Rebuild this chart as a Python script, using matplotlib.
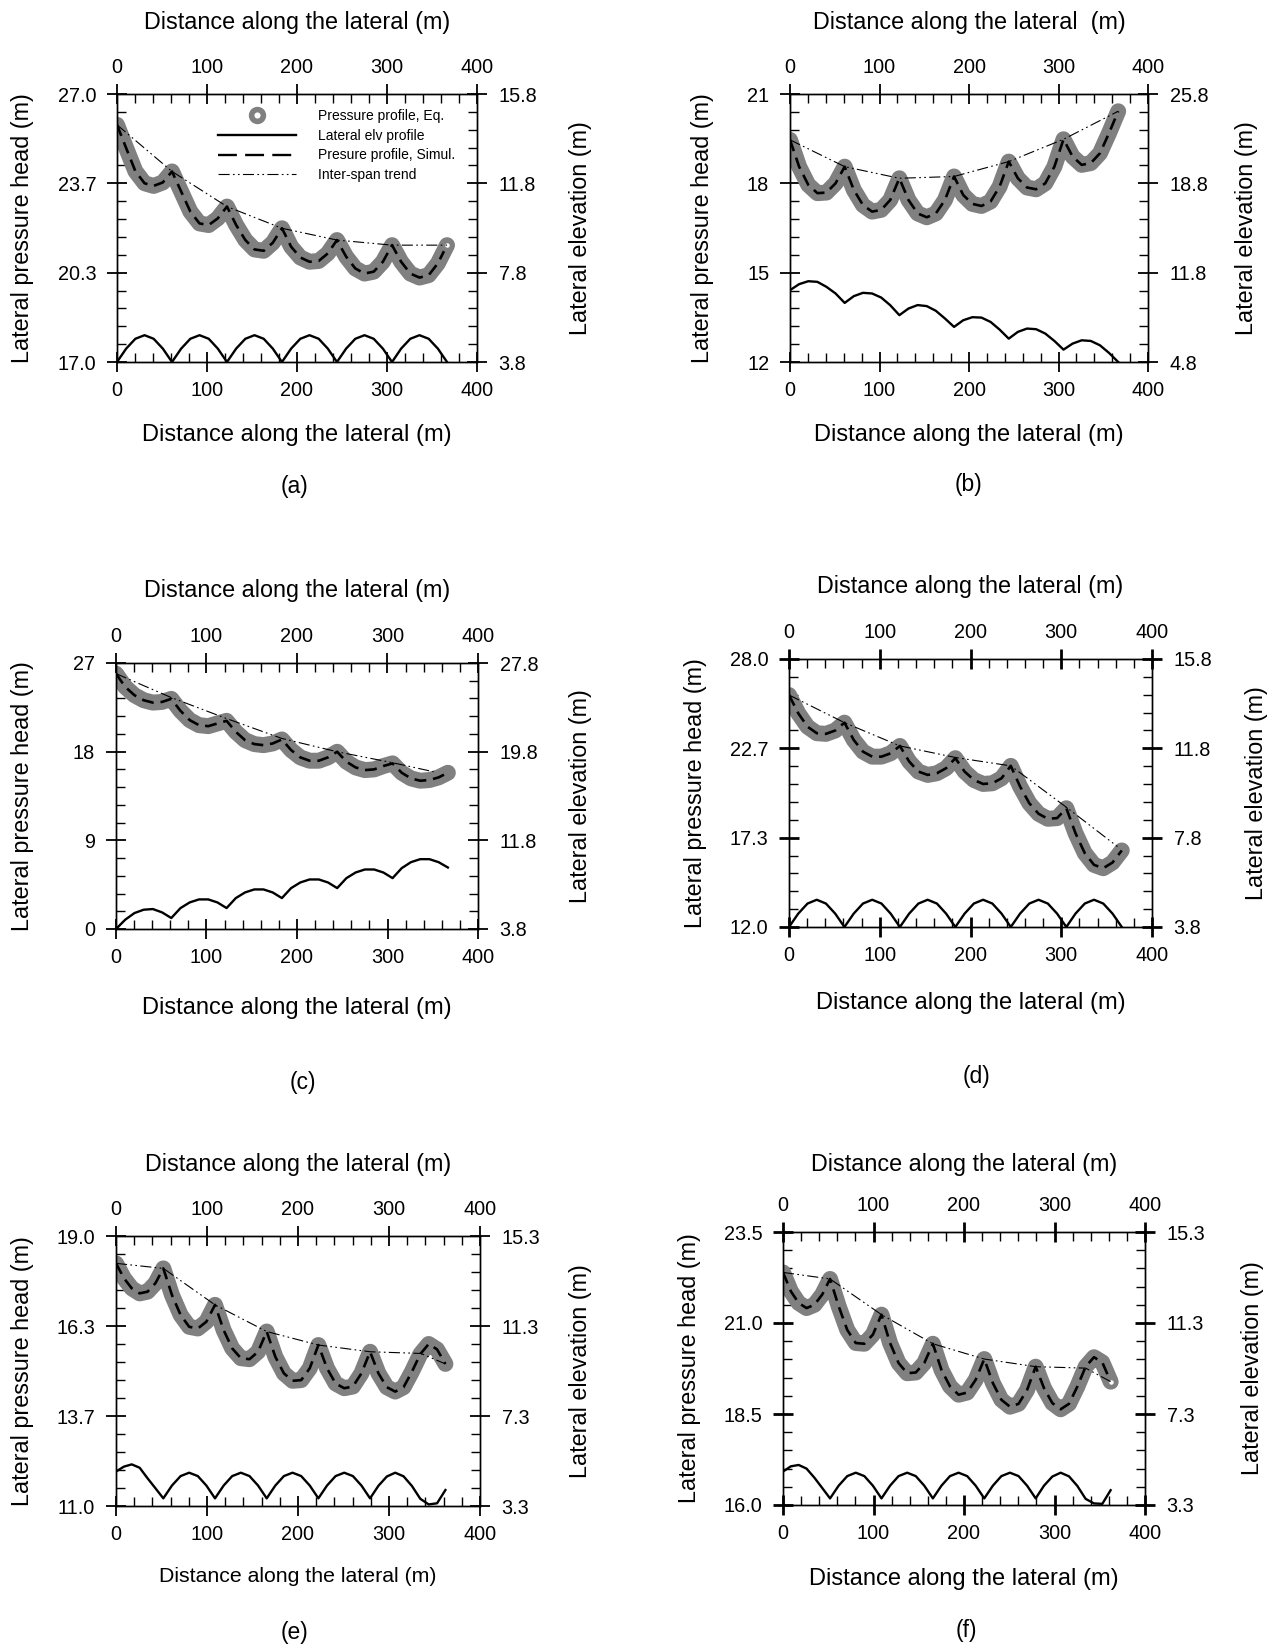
import matplotlib
matplotlib.use("Agg")
import matplotlib.pyplot as plt
from matplotlib.lines import Line2D
import numpy as np

plt.rcParams['font.family'] = ['Liberation Sans', 'DejaVu Sans']

W, H = 1277, 1646

# ---------------- data ----------------
# distance grid (m) for panels a-d (6 spans of ~61.1 m)
x_ad = [0, 10.2, 20.4, 30.6, 40.7, 50.9, 61.1, 71.3, 81.5, 91.7, 101.9, 112.0,
        122.2, 132.4, 142.6, 152.8, 163.0, 173.1, 183.3, 193.5, 203.7, 213.9,
        224.1, 234.2, 244.4, 254.6, 264.8, 275.0, 285.2, 295.4, 305.6, 315.7,
        325.9, 336.1, 346.3, 356.5, 366.7]
# distance grid (m) for panels e-f
x_ef = [0, 8.7, 17.3, 26.0, 34.7, 43.3, 52.0, 61.5, 71.0, 80.4, 89.9, 99.3,
        108.8, 118.3, 127.7, 137.2, 146.7, 156.1, 165.6, 175.1, 184.5, 194.0,
        203.5, 212.9, 222.4, 231.9, 241.3, 250.8, 260.3, 269.7, 279.2, 288.4,
        297.6, 306.8, 316.0, 325.2, 334.4, 343.6, 352.8, 362.0]

# pressure head profiles (m)
press_a = [25.85, 24.98, 24.12, 23.67, 23.57, 23.70, 24.11,
           23.36, 22.61, 22.17, 22.11, 22.36, 22.80,
           22.11, 21.55, 21.20, 21.15, 21.45, 21.99,
           21.30, 20.90, 20.74, 20.77, 21.05, 21.55,
           20.93, 20.49, 20.30, 20.37, 20.74, 21.36,
           20.74, 20.30, 20.15, 20.24, 20.68, 21.36]
press_b = [19.46, 18.56, 17.95, 17.67, 17.69, 18.00, 18.56,
           17.78, 17.27, 17.05, 17.11, 17.44, 18.17,
           17.44, 16.99, 16.86, 16.99, 17.44, 18.23,
           17.61, 17.31, 17.24, 17.39, 17.89, 18.73,
           18.17, 17.86, 17.80, 18.00, 18.56, 19.48,
           18.90, 18.62, 18.68, 19.01, 19.69, 20.42]
press_c = [25.92, 24.57, 23.73, 23.22, 22.98, 23.05, 23.36,
           22.14, 21.20, 20.69, 20.59, 20.86, 21.13,
           20.01, 19.17, 18.77, 18.66, 18.83, 19.24,
           18.16, 17.42, 17.08, 17.08, 17.42, 17.99,
           16.98, 16.40, 16.13, 16.20, 16.54, 16.81,
           15.86, 15.29, 15.05, 15.12, 15.39, 15.86]
press_d = [25.85, 24.76, 23.96, 23.57, 23.53, 23.73, 24.20,
           23.17, 22.47, 22.17, 22.17, 22.37, 22.81,
           21.88, 21.28, 21.08, 21.18, 21.48, 22.08,
           21.28, 20.78, 20.54, 20.58, 20.88, 21.62,
           20.39, 19.39, 18.76, 18.46, 18.50, 19.09,
           17.60, 16.41, 15.71, 15.51, 15.85, 16.57]
press_e = [18.19, 17.75, 17.45, 17.30, 17.35, 17.60, 18.04,
           17.25, 16.66, 16.31, 16.26, 16.46, 16.96,
           16.21, 15.67, 15.38, 15.35, 15.57, 16.17,
           15.42, 14.93, 14.71, 14.73, 15.08, 15.77,
           15.08, 14.63, 14.49, 14.54, 14.93, 15.57,
           14.93, 14.52, 14.39, 14.52, 14.98, 15.50, 15.80, 15.64, 15.21]
press_f = [22.39, 21.87, 21.55, 21.41, 21.50, 21.78, 22.21,
           21.46, 20.81, 20.45, 20.43, 20.68, 21.23,
           20.45, 19.90, 19.62, 19.64, 19.90, 20.43,
           19.71, 19.26, 19.03, 19.09, 19.44, 20.01,
           19.35, 18.89, 18.70, 18.78, 19.16, 19.80,
           19.21, 18.80, 18.63, 18.78, 19.25, 19.80, 20.06, 19.92, 19.39]

# lateral elevation profiles (m)
elev_a = [3.8, 4.4, 4.84, 5.0, 4.84, 4.4, 3.8,
          4.4, 4.84, 5.0, 4.84, 4.4, 3.8,
          4.4, 4.84, 5.0, 4.84, 4.4, 3.8,
          4.4, 4.84, 5.0, 4.84, 4.4, 3.8,
          4.4, 4.84, 5.0, 4.84, 4.4, 3.8,
          4.4, 4.84, 5.0, 4.84, 4.4, 3.8]
elev_b = [10.43, 10.90, 11.13, 11.08, 10.69, 10.17, 9.43,
          9.96, 10.22, 10.17, 9.85, 9.25, 8.47,
          8.99, 9.26, 9.18, 8.81, 8.21, 7.55,
          8.07, 8.31, 8.28, 7.94, 7.34, 6.63,
          7.16, 7.42, 7.37, 7.03, 6.45, 5.77,
          6.24, 6.50, 6.45, 6.11, 5.51, 4.80]
elev_c = [3.8, 4.64, 5.24, 5.54, 5.60, 5.30, 4.79,
          5.69, 6.20, 6.47, 6.47, 6.20, 5.69,
          6.59, 7.10, 7.37, 7.37, 7.10, 6.59,
          7.49, 8.00, 8.27, 8.27, 8.00, 7.49,
          8.39, 8.90, 9.17, 9.17, 8.90, 8.39,
          9.29, 9.83, 10.10, 10.10, 9.83, 9.35]
elev_d = [3.8, 4.4, 4.85, 5.02, 4.85, 4.4, 3.8,
          4.4, 4.85, 5.02, 4.85, 4.4, 3.8,
          4.4, 4.85, 5.02, 4.85, 4.4, 3.8,
          4.4, 4.85, 5.02, 4.85, 4.4, 3.8,
          4.4, 4.85, 5.02, 4.85, 4.4, 3.8,
          4.4, 4.85, 5.02, 4.85, 4.4, 3.8]
elev_e = [4.83, 5.05, 5.15, 5.00, 4.53, 4.09, 3.64,
          4.21, 4.63, 4.78, 4.63, 4.21, 3.64,
          4.21, 4.63, 4.78, 4.63, 4.21, 3.64,
          4.21, 4.63, 4.78, 4.63, 4.21, 3.64,
          4.21, 4.63, 4.78, 4.63, 4.21, 3.64,
          4.20, 4.61, 4.78, 4.62, 4.19, 3.62, 3.37, 3.42, 4.01]
elev_f = [4.77, 5.00, 5.06, 4.90, 4.50, 4.05, 3.59,
          4.15, 4.57, 4.72, 4.57, 4.15, 3.59,
          4.15, 4.57, 4.72, 4.57, 4.15, 3.59,
          4.15, 4.57, 4.72, 4.57, 4.15, 3.59,
          4.15, 4.57, 4.72, 4.57, 4.15, 3.59,
          4.15, 4.55, 4.72, 4.56, 4.14, 3.57, 3.37, 3.35, 3.95]

# inter-span trend
trend_x_a = [0, 61.1, 122.2, 183.3, 244.4, 305.6, 366.7]
trend_a = [25.85, 24.11, 22.80, 21.99, 21.55, 21.36, 21.36]
trend_x_b = [0, 61.1, 122.2, 183.3, 244.4, 305.6, 366.7]
trend_b = [19.46, 18.56, 18.17, 18.23, 18.73, 19.48, 20.42]
trend_x_c = [0, 61.1, 122.2, 183.3, 244.4, 305.6, 351.0]
trend_c = [25.92, 23.49, 21.36, 19.34, 17.99, 16.88, 15.96]
trend_x_d = [0, 61.1, 122.2, 183.3, 244.4, 305.6, 362.0]
trend_d = [25.85, 24.20, 22.81, 22.12, 21.62, 19.15, 16.80]
trend_x_e = [0, 52.0, 108.8, 165.6, 222.4, 279.2, 335.0, 362.0]
trend_e = [18.19, 18.04, 16.96, 16.17, 15.77, 15.57, 15.52, 15.21]
trend_x_f = [0, 52.0, 108.8, 165.6, 222.4, 279.2, 334.4, 362.0]
trend_f = [22.39, 22.21, 21.23, 20.43, 20.01, 19.80, 19.76, 19.39]

# axis ticks
x_ticks = [0, 100, 200, 300, 400]
left_lim = {'a': (17.0, 27.0), 'b': (12, 21), 'c': (0, 27), 'd': (12.0, 28.0),
            'e': (11.0, 19.0), 'f': (16.0, 23.5)}
left_labels = {'a': ['17.0', '20.3', '23.7', '27.0'], 'b': ['12', '15', '18', '21'],
               'c': ['0', '9', '18', '27'], 'd': ['12.0', '17.3', '22.7', '28.0'],
               'e': ['11.0', '13.7', '16.3', '19.0'], 'f': ['16.0', '18.5', '21.0', '23.5']}
right_lim = {'a': (3.8, 15.8), 'b': (4.8, 25.8), 'c': (3.8, 27.8), 'd': (3.8, 15.8),
             'e': (3.3, 15.3), 'f': (3.3, 15.3)}
right_labels = {'a': ['3.8', '7.8', '11.8', '15.8'], 'b': ['4.8', '11.8', '18.8', '25.8'],
                'c': ['3.8', '11.8', '19.8', '27.8'], 'd': ['3.8', '7.8', '11.8', '15.8'],
                'e': ['3.3', '7.3', '11.3', '15.3'], 'f': ['3.3', '7.3', '11.3', '15.3']}

xlabel = "Distance along the lateral (m)"
ylabel_left = "Lateral pressure head (m)"
ylabel_right = "Lateral elevation (m)"

panels = {
    'a': dict(x=x_ad, p=press_a, e=elev_a, tx=trend_x_a, t=trend_a),
    'b': dict(x=x_ad, p=press_b, e=elev_b, tx=trend_x_b, t=trend_b),
    'c': dict(x=x_ad, p=press_c, e=elev_c, tx=trend_x_c, t=trend_c),
    'd': dict(x=x_ad, p=press_d, e=elev_d, tx=trend_x_d, t=trend_d),
    'e': dict(x=x_ef, p=press_e, e=elev_e, tx=trend_x_e, t=trend_e),
    'f': dict(x=x_ef, p=press_f, e=elev_f, tx=trend_x_f, t=trend_f),
}

# ---------------- layout (pixel boxes: left, right, top, bottom) ----------------
boxes = {'a': (117, 477, 94, 362), 'b': (790, 1148, 94, 362),
         'c': (116, 478, 663, 929), 'd': (789, 1152, 659, 927),
         'e': (116, 480, 1236, 1506), 'f': (783, 1145, 1232, 1505)}
title_y = {'a': 22, 'b': 22, 'c': 591, 'd': 586, 'e': 1164, 'f': 1164}
xlab_y = {'a': 435, 'b': 435, 'c': 1008, 'd': 1003, 'e': 1577, 'f': 1579}
xlab_fs = {'a': 17, 'b': 17, 'c': 17, 'd': 17, 'e': 15.3, 'f': 17}
letter_y = {'a': 486, 'b': 484, 'c': 1083, 'd': 1076, 'e': 1632, 'f': 1631}
letter_x = {'a': 294, 'b': 968, 'c': 303, 'd': 977, 'e': 295, 'f': 966}
ylab_lx = {'a': 23, 'b': 703, 'c': 23, 'd': 695, 'e': 23, 'f': 689}
ylab_rx = {'a': 581, 'b': 1247, 'c': 581, 'd': 1257, 'e': 581, 'f': 1252}
top_title = {'a': xlabel, 'b': "Distance along the lateral  (m)", 'c': xlabel,
             'd': xlabel, 'e': xlabel, 'f': xlabel}

fig = plt.figure(figsize=(W / 100, H / 100), dpi=100)


def fx(px):
    return px / W


def fy(py):
    return 1 - py / H


GRAY = '#808080'
TICK_FS = 14.3
LAB_FS = 16.8

for key, d in panels.items():
    l, r, t, b = boxes[key]
    ax = fig.add_axes([fx(l), fy(b), (r - l) / W, (b - t) / H])
    ax2 = ax.twinx()

    ax.plot(d['x'], d['p'], color=GRAY, lw=11.5, solid_capstyle='round',
            solid_joinstyle='round', zorder=2)
    ax.plot(d['x'], d['p'], color='black', lw=1.9, dashes=(4.5, 2.6),
            dash_capstyle='butt', zorder=3)
    ax.plot(d['tx'], d['t'], color='black', lw=0.8,
            dashes=(10, 3, 1.5, 3, 1.5, 3), zorder=4)
    if key in ('a', 'f'):
        ax.plot([d['x'][-1]], [d['p'][-1]], 'o', ms=6.5, mfc='white',
                mec=GRAY, mew=3.2, zorder=3.5)
    ax2.plot(d['x'], d['e'], color='black', lw=1.7, zorder=2)

    lo, hi = left_lim[key]
    ax.set_ylim(lo, hi)
    ax.set_yticks(np.linspace(lo, hi, 4))
    ax.set_yticklabels(left_labels[key])
    ax.set_yticks(np.linspace(lo, hi, 16), minor=True)
    rlo, rhi = right_lim[key]
    ax2.set_ylim(rlo, rhi)
    ax2.set_yticks(np.linspace(rlo, rhi, 4))
    ax2.set_yticklabels(right_labels[key])
    ax2.set_yticks(np.linspace(rlo, rhi, 16), minor=True)

    ax.set_xlim(0, 400)
    ax.set_xticks(x_ticks)
    ax.set_xticks(np.arange(0, 401, 20), minor=True)

    mw = 2.0 if key in ('d', 'f') else 1.3
    ax.tick_params(axis='both', which='major', direction='inout', length=14,
                   width=mw, labelsize=TICK_FS, top=True, bottom=True,
                   left=True, right=False, labeltop=False)
    ax.tick_params(axis='both', which='minor', direction='in', length=6.5,
                   width=1.0, top=True, bottom=True, left=True, right=False)
    ax.tick_params(axis='x', which='major', pad=6.5)
    ax.tick_params(axis='y', which='major', pad=8)
    ax2.tick_params(axis='y', which='major', direction='inout', length=14,
                    width=mw, labelsize=TICK_FS, pad=8.5, right=True, left=False)
    ax2.tick_params(axis='y', which='minor', direction='in', length=6.5,
                    width=1.0, right=True, left=False)

    sec = ax.secondary_xaxis('top')
    sec.set_xticks(x_ticks)
    sec.tick_params(axis='x', which='major', direction='inout', length=14,
                    width=mw, labelsize=TICK_FS, pad=5)
    sec.tick_params(axis='x', which='minor', top=False)
    sec.spines['top'].set_visible(False)
    ax.tick_params(axis='x', which='major', top=False)

    for sp in list(ax.spines.values()) + list(ax2.spines.values()):
        sp.set_linewidth(1.0)

    cx = (l + r) / 2
    cy = (t + b) / 2
    fig.text(fx(cx), fy(title_y[key]), top_title[key], ha='center',
             va='center', fontsize=LAB_FS)
    fig.text(fx(cx), fy(xlab_y[key]), xlabel, ha='center', va='center',
             fontsize=xlab_fs[key])
    fig.text(fx(letter_x[key]), fy(letter_y[key]), f"({key})", ha='center',
             va='center', fontsize=16.5)
    fig.text(fx(ylab_lx[key]), fy(cy), ylabel_left, rotation=90, ha='center',
             va='center', fontsize=LAB_FS)
    fig.text(fx(ylab_rx[key]), fy(cy), ylabel_right, rotation=90, ha='center',
             va='center', fontsize=LAB_FS)

    if key == 'a':
        handles = [
            Line2D([], [], ls='none', marker='o', ms=8.5, mfc='white', mec=GRAY,
                   mew=4),
            Line2D([], [], color='black', lw=1.7),
            Line2D([], [], color='black', lw=1.7, dashes=(8, 3.5)),
            Line2D([], [], color='black', lw=0.8, dashes=(10, 3, 1.5, 3, 1.5, 3)),
        ]
        labels = ["Pressure profile, Eq.", "Lateral elv profile",
                  "Presure profile, Simul.", "Inter-span trend"]
        ax.legend(handles, labels, loc='upper left', bbox_to_anchor=(0.28, 0.945),
                  frameon=False, fontsize=10, handlelength=5.6,
                  handletextpad=1.6, labelspacing=0.42, borderaxespad=0,
                  borderpad=0)

fig.savefig("out.png", dpi=100)
